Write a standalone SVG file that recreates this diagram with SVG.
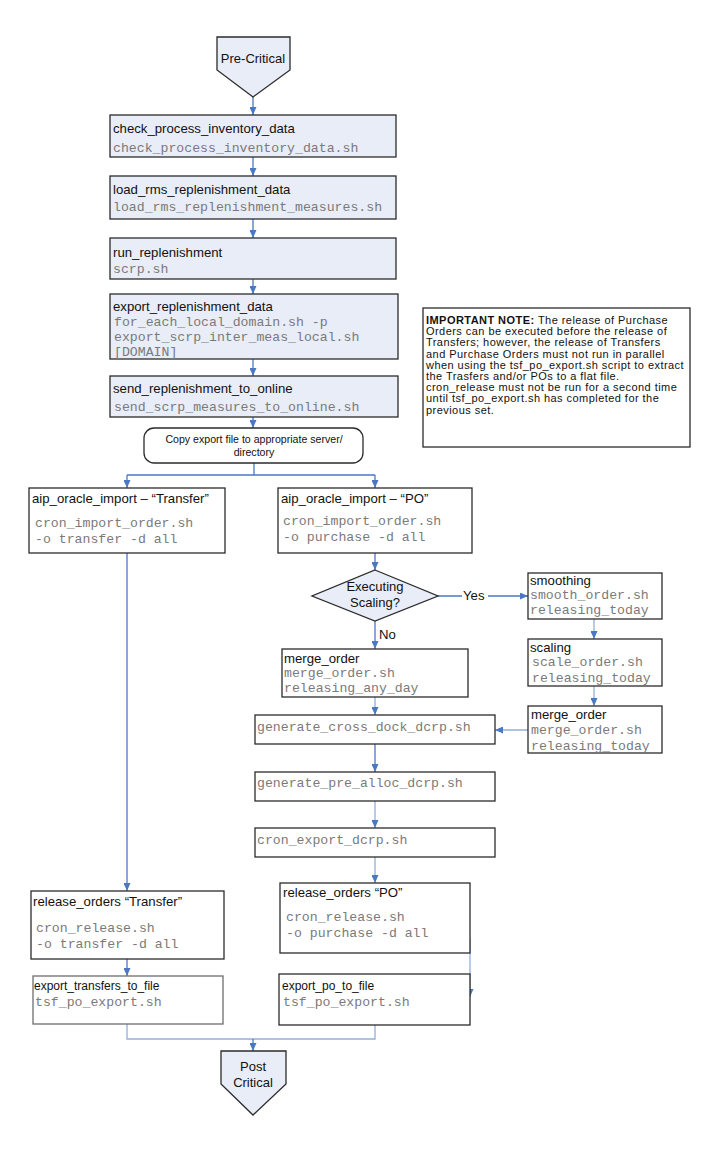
<svg xmlns="http://www.w3.org/2000/svg" width="714" height="1152" viewBox="0 0 714 1152">
<style>
.bg{fill:#ffffff}
.box{fill:#E9EDF7;stroke:#2b2b2b;stroke-width:1.3}
.wbox{fill:#ffffff;stroke:#2b2b2b;stroke-width:1.3}
.gbox{fill:#ffffff;stroke:#6e6e6e;stroke-width:1.3}
.t{font-family:"Liberation Sans",Arial,sans-serif;font-size:13.2px;fill:#111}
.ts{font-family:"Liberation Sans",Arial,sans-serif;font-size:12px;fill:#111}
.c{font-family:"Liberation Sans",Arial,sans-serif;font-size:13px;fill:#111;text-anchor:middle}
.cs{font-family:"Liberation Sans",Arial,sans-serif;font-size:10.6px;fill:#111;text-anchor:middle}
.n{font-family:"Liberation Sans",Arial,sans-serif;font-size:11px;letter-spacing:0.45px;fill:#111}
.m{font-family:"Liberation Mono","Courier New",monospace;font-size:13.2px;fill:#7a7a7a}
.ln{fill:none;stroke:#4A78C2;stroke-width:1.3}
.lt{fill:none;stroke:#93AEDC;stroke-width:1.3}
</style>
<defs>
<marker id="ah" viewBox="0 0 8 7" refX="8" refY="3.5" markerWidth="8" markerHeight="7" markerUnits="userSpaceOnUse" orient="auto">
<path d="M0,0 L8,3.5 L0,7 z" fill="#4A78C2"/>
</marker>
</defs>
<rect class="bg" x="0" y="0" width="714" height="1152"/>

<g id="connectors">
<path class="ln" d="M253,97 V115" marker-end="url(#ah)"/>
<path class="ln" d="M253,157 V176" marker-end="url(#ah)"/>
<path class="ln" d="M253,219 V238" marker-end="url(#ah)"/>
<path class="ln" d="M253,279 V294" marker-end="url(#ah)"/>
<path class="ln" d="M253,359 V376" marker-end="url(#ah)"/>
<path class="ln" d="M253,417 V428" marker-end="url(#ah)"/>
<path class="ln" d="M254,463 V475 M127,475 H375"/>
<path class="ln" d="M127,475 V488" marker-end="url(#ah)"/>
<path class="ln" d="M375,475 V488" marker-end="url(#ah)"/>
<path class="ln" d="M127,553 V891" marker-end="url(#ah)"/>
<path class="ln" d="M127,959 V976" marker-end="url(#ah)"/>
<path class="ln" d="M375,553 V570" marker-end="url(#ah)"/>
<path class="ln" d="M438,596 H528" marker-end="url(#ah)"/>
<path class="ln" d="M375,621 V649" marker-end="url(#ah)"/>
<path class="lt" d="M594,619 V639" marker-end="url(#ah)"/>
<path class="lt" d="M594,686 V706" marker-end="url(#ah)"/>
<path class="lt" d="M528,730 H495" marker-end="url(#ah)"/>
<path class="lt" d="M375,697 V715" marker-end="url(#ah)"/>
<path class="ln" d="M375,744 V772" marker-end="url(#ah)"/>
<path class="lt" d="M375,801 V828" marker-end="url(#ah)"/>
<path class="lt" d="M375,857 V883" marker-end="url(#ah)"/>
<path class="lt" d="M470,938 V997" marker-end="url(#ah)"/>
<path class="lt" d="M127,1024 V1039 H375 V1025"/>
<path class="ln" d="M253,1039 V1051" marker-end="url(#ah)"/>
<rect x="462" y="588" width="26" height="16" fill="#ffffff"/>
<text class="t" x="463" y="600">Yes</text>
<text class="t" x="379" y="639">No</text>
</g>

<g id="pre-critical">
<polygon class="box" points="217,37 290,37 290,70 253,97 217,70"/>
<text class="c" x="253" y="63">Pre-Critical</text>
</g>

<g id="check_process_inventory_data">
<rect class="box" x="110" y="115" width="286" height="42"/>
<text class="t" x="113" y="133">check_process_inventory_data</text>
<text class="m" x="113" y="152">check_process_inventory_data.sh</text>
</g>

<g id="load_rms_replenishment_data">
<rect class="box" x="110" y="176" width="286" height="43"/>
<text class="t" x="113" y="194">load_rms_replenishment_data</text>
<text class="m" x="113" y="211">load_rms_replenishment_measures.sh</text>
</g>

<g id="run_replenishment">
<rect class="box" x="110" y="238" width="286" height="41"/>
<text class="t" x="113" y="257">run_replenishment</text>
<text class="m" x="113" y="273">scrp.sh</text>
</g>

<g id="export_replenishment_data">
<rect class="box" x="110" y="294" width="288" height="65"/>
<text class="t" x="113" y="311">export_replenishment_data</text>
<text class="m" x="114" y="326">for_each_local_domain.sh -p</text>
<text class="m" x="114" y="341">export_scrp_inter_meas_local.sh</text>
<text class="m" x="114" y="356">[DOMAIN]</text>
</g>

<g id="send_replenishment_to_online">
<rect class="box" x="110" y="376" width="288" height="41"/>
<text class="t" x="113" y="393">send_replenishment_to_online</text>
<text class="m" x="114" y="411">send_scrp_measures_to_online.sh</text>
</g>

<g id="copy_export">
<rect class="wbox" x="144" y="428" width="219" height="35" rx="10" ry="10"/>
<text class="cs" x="254" y="443">Copy export file to appropriate server/</text>
<text class="cs" x="254" y="456">directory</text>
</g>

<g id="note">
<rect class="wbox" x="423" y="308" width="267" height="139"/>
<text class="n" x="426" y="324"><tspan font-weight="bold">IMPORTANT NOTE:</tspan> The release of Purchase</text>
<text class="n" x="426" y="335.2">Orders can be executed before the release of</text>
<text class="n" x="426" y="346.4">Transfers; however, the release of Transfers</text>
<text class="n" x="426" y="357.6">and Purchase Orders must not run in parallel</text>
<text class="n" x="426" y="368.8">when using the tsf_po_export.sh script to extract</text>
<text class="n" x="426" y="380">the Trasfers and/or POs to a flat file.</text>
<text class="n" x="426" y="391.2">cron_release must not be run for a second time</text>
<text class="n" x="426" y="402.4">until tsf_po_export.sh has completed for the</text>
<text class="n" x="426" y="413.6">previous set.</text>
</g>

<g id="aip_import_transfer">
<rect class="wbox" x="29" y="488" width="196" height="65"/>
<text class="t" x="32" y="503">aip_oracle_import – “Transfer”</text>
<text class="m" x="35" y="527">cron_import_order.sh</text>
<text class="m" x="35" y="543">-o transfer -d all</text>
</g>

<g id="aip_import_po">
<rect class="wbox" x="278" y="488" width="194" height="65"/>
<text class="t" x="281" y="503">aip_oracle_import – “PO”</text>
<text class="m" x="283" y="525">cron_import_order.sh</text>
<text class="m" x="283" y="541">-o purchase -d all</text>
</g>

<g id="executing_scaling">
<polygon class="box" points="375,570 438,596 375,621 312,596"/>
<text class="c" x="375" y="591">Executing</text>
<text class="c" x="375" y="607">Scaling?</text>
</g>

<g id="smoothing">
<rect class="wbox" x="528" y="573" width="134" height="46"/>
<text class="t" x="530" y="585">smoothing</text>
<text class="m" x="530" y="599">smooth_order.sh</text>
<text class="m" x="530" y="614">releasing_today</text>
</g>

<g id="scaling">
<rect class="wbox" x="528" y="639" width="134" height="47"/>
<text class="t" x="530" y="652">scaling</text>
<text class="m" x="532" y="666">scale_order.sh</text>
<text class="m" x="532" y="682">releasing_today</text>
</g>

<g id="merge_order_today">
<rect class="wbox" x="528" y="706" width="134" height="47"/>
<text class="t" x="531" y="719">merge_order</text>
<text class="m" x="531" y="734">merge_order.sh</text>
<text class="m" x="531" y="750">releasing_today</text>
</g>

<g id="merge_order_any_day">
<rect class="wbox" x="282" y="649" width="186" height="48"/>
<text class="t" x="284" y="663">merge_order</text>
<text class="m" x="284" y="677">merge_order.sh</text>
<text class="m" x="284" y="692">releasing_any_day</text>
</g>

<g id="generate_cross_dock">
<rect class="wbox" x="255" y="715" width="240" height="29"/>
<text class="m" x="257" y="731">generate_cross_dock_dcrp.sh</text>
</g>

<g id="generate_pre_alloc">
<rect class="wbox" x="255" y="772" width="240" height="29"/>
<text class="m" x="257" y="787">generate_pre_alloc_dcrp.sh</text>
</g>

<g id="cron_export_dcrp">
<rect class="wbox" x="255" y="828" width="240" height="29"/>
<text class="m" x="257" y="844">cron_export_dcrp.sh</text>
</g>

<g id="release_orders_transfer">
<rect class="wbox" x="31" y="891" width="193" height="68"/>
<text class="t" x="33" y="906">release_orders “Transfer”</text>
<text class="m" x="36" y="932">cron_release.sh</text>
<text class="m" x="36" y="948">-o transfer -d all</text>
</g>

<g id="release_orders_po">
<rect class="wbox" x="280" y="883" width="190" height="70"/>
<text class="t" x="283" y="897">release_orders “PO”</text>
<text class="m" x="286" y="921">cron_release.sh</text>
<text class="m" x="286" y="937">-o purchase -d all</text>
</g>

<g id="export_transfers_to_file">
<rect class="gbox" x="33" y="976" width="190" height="48"/>
<text class="ts" x="34" y="990">export_transfers_to_file</text>
<text class="m" x="35" y="1006">tsf_po_export.sh</text>
</g>

<g id="export_po_to_file">
<rect class="wbox" x="279" y="974" width="191" height="51"/>
<text class="ts" x="282" y="990">export_po_to_file</text>
<text class="m" x="283" y="1006">tsf_po_export.sh</text>
</g>

<g id="post-critical">
<polygon class="box" points="221,1051 286,1051 286,1084 253,1115 221,1084"/>
<text class="c" x="253" y="1071">Post</text>
<text class="c" x="253" y="1087">Critical</text>
</g>
</svg>
